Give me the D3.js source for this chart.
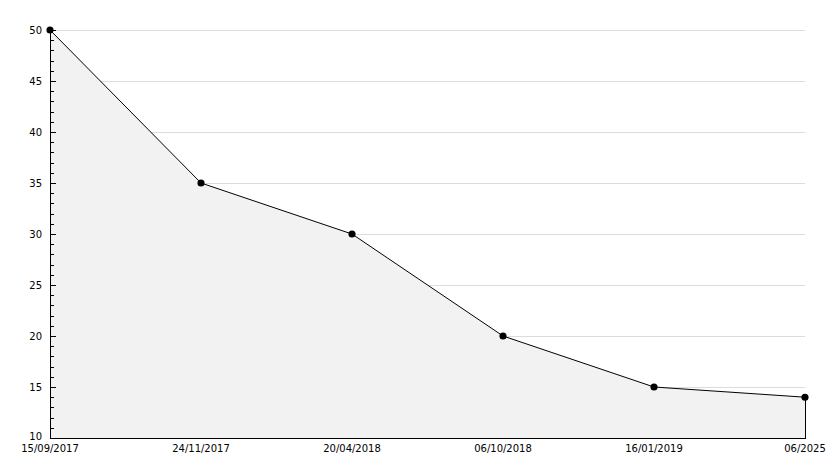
<!DOCTYPE html>
<html><head><meta charset="utf-8">
<script src="https://cdn.jsdelivr.net/npm/d3@7"></script>
<style>body{margin:0;background:#fff}svg{display:block}text{font-family:"DejaVu Sans",Verdana,sans-serif;font-size:10px;fill:#000}</style>
</head><body>
<svg id="c" width="834" height="468"></svg>
<script>
const categories = ["15/09/2017","24/11/2017","20/04/2018","06/10/2018","16/01/2019","06/2025"];
const values = [50, 35, 30, 20, 15, 14];
const yTicks = [10,15,20,25,30,35,40,45,50];

const svg = d3.select("#c");
const x = d3.scalePoint().domain(categories).range([50, 805]);
const y = d3.scaleLinear().domain([10, 50]).range([438, 30]);
const data = categories.map((c,i)=>({c, v: values[i]}));

// grid
svg.append("g").selectAll("line").data(yTicks.filter(t=>t>10)).join("line")
  .attr("x1", 50).attr("x2", 805).attr("y1", d=>Math.round(y(d))+0.5).attr("y2", d=>Math.round(y(d))+0.5)
  .attr("stroke", "#dcdcdc").attr("stroke-width", 1);

// area
const area = d3.area().x(d=>x(d.c)).y0(y(10)).y1(d=>y(d.v));
svg.append("path").datum(data).attr("d", area).attr("fill", "#f2f2f2");
svg.append("line").attr("x1", 805.5).attr("x2", 805.5).attr("y1", y(values[values.length-1])).attr("y2", 438)
  .attr("stroke", "#000");

// line
svg.append("path").datum(data).attr("d", d3.line().x(d=>x(d.c)).y(d=>y(d.v)))
  .attr("fill", "none").attr("stroke", "#000").attr("stroke-width", 1);

// markers
svg.append("g").selectAll("path").data(data).join("path")
  .attr("transform", d=>`translate(${x(d.c)},${y(d.v)})`)
  .attr("d", d3.symbol(d3.symbolCircle, 40)).attr("fill", "#000");

// y axis
const minor = d3.range(10, 51, 1);
svg.append("g").selectAll("line").data(minor).join("line")
  .attr("x1", 50).attr("x2", d=> d%5===0 ? 56 : 54)
  .attr("y1", d=>Math.round(y(d))+0.5).attr("y2", d=>Math.round(y(d))+0.5)
  .attr("stroke", "#000");
svg.append("line").attr("x1", 50.5).attr("x2", 50.5).attr("y1", 30).attr("y2", 438.5).attr("stroke", "#000");
svg.append("g").selectAll("text").data(yTicks).join("text")
  .attr("x", 42).attr("y", d=> d===10 ? y(d)-2 : y(d)).attr("dy", "0.35em").attr("text-anchor", "end").text(d=>d);

// x axis
svg.append("line").attr("x1", 50).attr("x2", 806).attr("y1", 438.5).attr("y2", 438.5).attr("stroke", "#000");
svg.append("g").selectAll("text").data(categories).join("text")
  .attr("x", d=>x(d)).attr("y", 452).attr("text-anchor", "middle").text(d=>d);
</script>
</body></html>
